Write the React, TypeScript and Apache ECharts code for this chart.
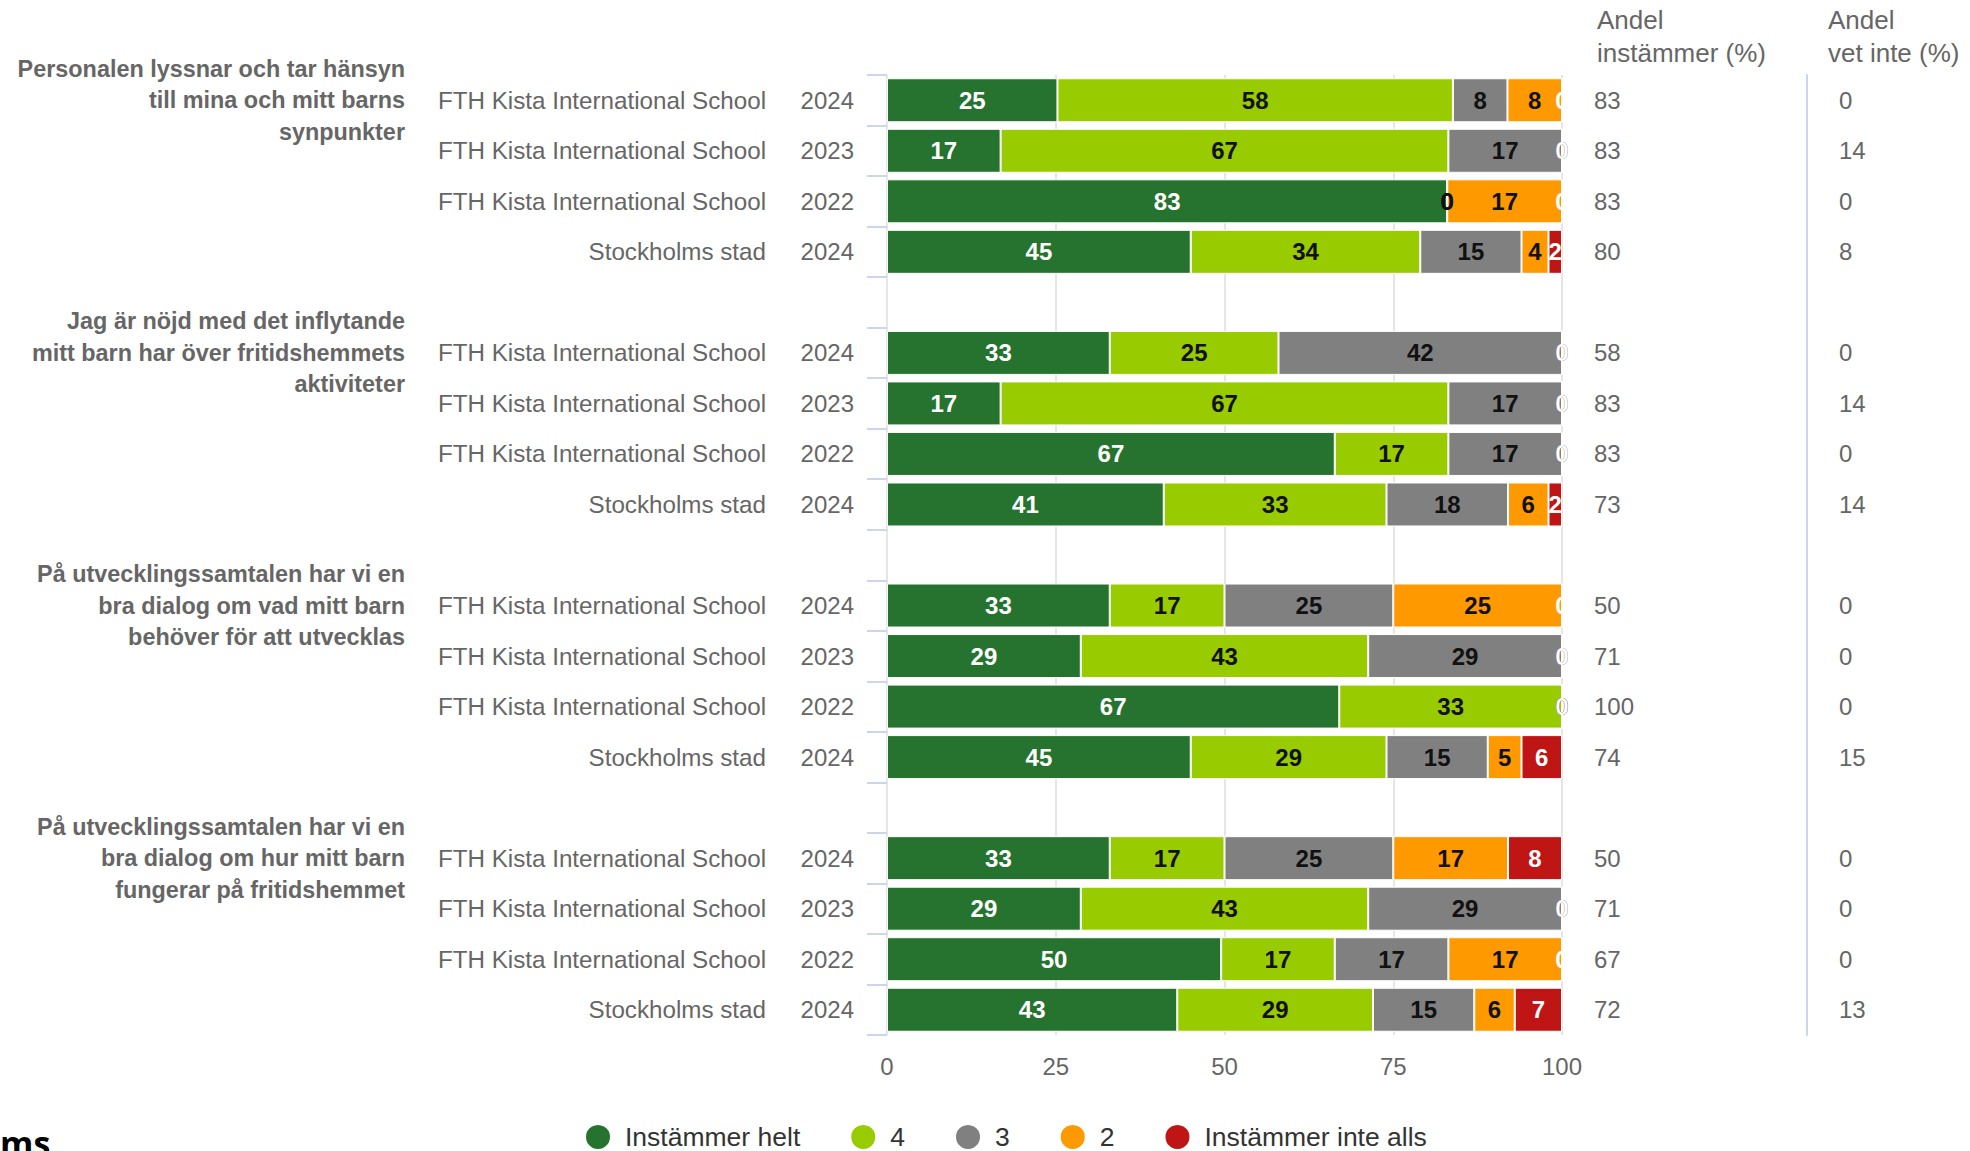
import React, { useEffect, useRef } from "react";
import * as echarts from "echarts";

const seriesNames = ["Instämmer helt", "4", "3", "2", "Instämmer inte alls"];
const seriesColors = ["#267330", "#99cc00", "#808080", "#ff9900", "#bf1515"];
const labelColors = ["#ffffff", "#111111", "#111111", "#111111", "#ffffff"];

const questions = [
  "Personalen lyssnar och tar hänsyn\ntill mina och mitt barns\nsynpunkter",
  "Jag är nöjd med det inflytande\nmitt barn har över fritidshemmets\naktiviteter",
  "På utvecklingssamtalen har vi en\nbra dialog om vad mitt barn\nbehöver för att utvecklas",
  "På utvecklingssamtalen har vi en\nbra dialog om hur mitt barn\nfungerar på fritidshemmet",
];
const units = [
  "FTH Kista International School",
  "FTH Kista International School",
  "FTH Kista International School",
  "Stockholms stad",
];
const years = ["2024", "2023", "2022", "2024"];

// 16 rows: 4 questions x 4 units
const instHelt = [25, 17, 83, 45, 33, 17, 67, 41, 33, 29, 67, 45, 33, 29, 50, 43];
const val4 = [58, 67, 0, 34, 25, 67, 17, 33, 17, 43, 33, 29, 17, 43, 17, 29];
const val3 = [8, 17, 0, 15, 42, 17, 17, 18, 25, 29, 0, 15, 25, 29, 17, 15];
const val2 = [8, 0, 17, 4, 0, 0, 0, 6, 25, 0, 0, 5, 17, 0, 17, 6];
const inteAlls = [0, 0, 0, 2, 0, 0, 0, 2, 0, 0, 0, 6, 8, 0, 0, 7];
const andelInstammer = [83, 83, 83, 80, 58, 83, 83, 73, 50, 71, 100, 74, 50, 71, 67, 72];
const andelVetInte = [0, 14, 0, 8, 0, 14, 0, 14, 0, 0, 0, 15, 0, 0, 0, 13];

const xTicks = { min: 0, max: 100, interval: 25 };

export default function App() {
  const ref = useRef<HTMLDivElement>(null);

  useEffect(() => {
    if (!ref.current) return;
    const chart = echarts.init(ref.current, undefined, { renderer: "svg" });

    const seriesValues = [instHelt, val4, val3, val2, inteAlls];
    const rowIdx: (number | null)[] = [];
    questions.forEach((_, g) => {
      for (let r = 0; r < 4; r++) rowIdx.push(g * 4 + r);
      if (g < questions.length - 1) rowIdx.push(null);
    });

    const yearData = rowIdx.map((i) => (i === null ? "" : years[i % 4]));
    const unitData = rowIdx.map((i) => (i === null ? "" : units[i % 4]));
    const questionData = rowIdx.map((i) =>
      i !== null && i % 4 === 0 ? questions[i / 4] : ""
    );
    const instData = rowIdx.map((i) => (i === null ? "" : String(andelInstammer[i])));
    const vetData = rowIdx.map((i) => (i === null ? "" : String(andelVetInte[i])));
    const catKeys = rowIdx.map((_, k) => "r" + k);

    const totals = instHelt.map((_, i) =>
      seriesValues.reduce((s, arr) => s + arr[i], 0)
    );

    const series = seriesNames.map((name, s) => ({
      name,
      type: "bar",
      stack: "total",
      barWidth: 44,
      yAxisIndex: 0,
      itemStyle: { color: seriesColors[s], borderColor: "#ffffff", borderWidth: 1 },
      label: {
        show: true,
        position: "inside",
        fontSize: 24,
        fontWeight: "bold",
        color: labelColors[s],
        formatter: (p: any) => (p.data && p.data.raw !== undefined ? String(p.data.raw) : ""),
      },
      data: rowIdx.map((i) =>
        i === null
          ? { value: "-" }
          : { value: (seriesValues[s][i] / totals[i]) * 100, raw: seriesValues[s][i] }
      ),
    }));

    const baseCat = {
      type: "category",
      inverse: true,
      gridIndex: 0,
      axisLine: { show: false },
      axisTick: { show: false },
      splitLine: { show: false },
    };

    chart.setOption({
      animation: false,
      textStyle: { fontFamily: "'Liberation Sans', Arial, sans-serif" },
      grid: { left: 887, top: 75, width: 675, height: 960, containLabel: false },
      xAxis: {
        type: "value",
        min: xTicks.min,
        max: xTicks.max,
        interval: xTicks.interval,
        axisLine: { show: false },
        axisTick: { show: false },
        splitLine: { show: true, lineStyle: { color: "#e6e6e6", width: 2 } },
        axisLabel: { fontSize: 24, color: "#666666", margin: 19 },
      },
      yAxis: [
        {
          ...baseCat,
          position: "left",
          data: catKeys,
          axisTick: { show: true, length: 20, lineStyle: { color: "#ccd6eb", width: 2 } },
          axisLabel: {
            interval: 0,
            margin: 33,
            fontSize: 24,
            color: "#666666",
            formatter: (_: string, j: number) => yearData[j],
          },
        },
        {
          ...baseCat,
          position: "left",
          data: catKeys,
          axisLabel: {
            interval: 0,
            margin: 121,
            fontSize: 24.2,
            color: "#666666",
            formatter: (_: string, j: number) => unitData[j],
          },
        },
        {
          ...baseCat,
          position: "left",
          data: catKeys,
          axisLabel: {
            interval: 0,
            margin: 482,
            fontSize: 23.4,
            lineHeight: 31.5,
            fontWeight: "bold",
            color: "#666666",
            formatter: (_: string, j: number) => questionData[j],
          },
        },
        {
          ...baseCat,
          position: "right",
          data: catKeys,
          axisLabel: {
            interval: 0,
            margin: 32,
            fontSize: 24,
            color: "#666666",
            formatter: (_: string, j: number) => instData[j],
          },
        },
        {
          ...baseCat,
          position: "right",
          offset: 245,
          data: catKeys,
          axisLine: { show: true, lineStyle: { color: "#ccd6eb", width: 2 } },
          axisLabel: {
            interval: 0,
            margin: 32,
            fontSize: 24,
            color: "#666666",
            formatter: (_: string, j: number) => vetData[j],
          },
        },
      ],
      legend: {
        data: seriesNames,
        left: 579,
        top: 1118,
        icon: "circle",
        itemWidth: 44,
        itemHeight: 26,
        itemGap: 49,
        textStyle: { fontSize: 26.5, color: "#333333" },
      },
      graphic: [
        {
          type: "text",
          left: 1597,
          top: 3,
          style: {
            text: "Andel\ninstämmer (%)",
            fontSize: 26,
            lineHeight: 33,
            fill: "#666666",
            fontFamily: "'Liberation Sans', Arial, sans-serif",
          },
        },
        {
          type: "text",
          left: 1828,
          top: 3,
          style: {
            text: "Andel\nvet inte (%)",
            fontSize: 26,
            lineHeight: 33,
            fill: "#666666",
            fontFamily: "'Liberation Sans', Arial, sans-serif",
          },
        },
        {
          type: "text",
          x: 0,
          y: 1143,
          style: {
            text: "ms",
            fontSize: 34,
            fontWeight: "bold",
            fill: "#000000",
            verticalAlign: "middle",
            align: "left",
            fontFamily: "'Open Sans', sans-serif",
          },
        },
      ],
      series,
    });

    return () => chart.dispose();
  }, []);

  return (
    <div
      ref={ref}
      style={{ position: "absolute", left: 0, top: 0, width: 1970, height: 1151 }}
    />
  );
}
